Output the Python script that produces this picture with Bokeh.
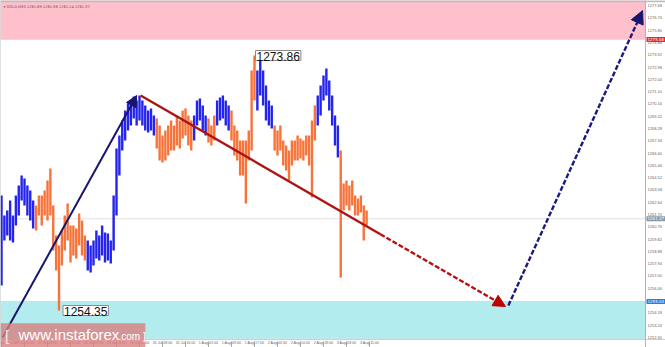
from bokeh.plotting import figure
from bokeh.models import (Range1d, FixedTicker, PrintfTickFormatter, BoxAnnotation,
                          Span, Label, Arrow, NormalHead)
from bokeh.embed import file_html
from bokeh.resources import INLINE

# ---------------- data (GOLD, M30 chart, sampled hourly) ----------------
bar_high = [1263.15, 1261.62, 1262.00, 1262.77, 1261.62, 1263.15, 1263.91, 1264.68, 1264.45, 1263.91,
            1263.53, 1262.77, 1262.38, 1263.15, 1263.15, 1263.53, 1264.30, 1265.21, 1262.38, 1260.09,
            1259.32, 1260.47, 1261.62, 1262.54, 1260.85, 1260.85, 1260.62, 1261.77, 1261.24, 1260.09,
            1259.71, 1259.32, 1259.71, 1260.47, 1260.09, 1260.85, 1260.32, 1260.24, 1259.71, 1263.15,
            1266.74, 1267.74, 1268.89, 1269.65, 1270.19, 1270.42, 1270.72, 1270.42, 1270.80, 1270.42,
            1270.04, 1269.65, 1269.80, 1269.27, 1269.04, 1268.50, 1267.74, 1268.12, 1268.50, 1268.89,
            1268.50, 1269.27, 1268.89, 1269.65, 1269.80, 1269.27, 1268.89, 1269.27, 1270.42, 1270.57,
            1270.04, 1269.27, 1269.04, 1268.50, 1269.27, 1270.42, 1270.65, 1270.80, 1270.42, 1270.04,
            1269.65, 1268.50, 1268.12, 1267.36, 1267.36, 1267.36, 1268.12, 1272.71, 1273.86, 1272.71,
            1273.63, 1272.71, 1271.57, 1270.42, 1270.04, 1268.50, 1268.12, 1268.50, 1267.36, 1266.97,
            1266.59, 1267.36, 1267.36, 1267.74, 1267.51, 1267.36, 1267.74, 1267.74, 1268.89, 1270.04,
            1270.80, 1271.57, 1272.33, 1272.87, 1271.95, 1270.80, 1269.27, 1268.50, 1266.59, 1264.07,
            1264.30, 1263.91, 1264.30, 1263.15, 1262.92, 1263.15, 1262.38, 1262.00]
bar_low = [1256.26, 1259.71, 1260.09, 1259.71, 1259.55, 1260.85, 1261.62, 1262.77, 1262.38, 1261.62,
           1261.24, 1260.62, 1260.47, 1261.62, 1260.85, 1261.62, 1261.24, 1261.62, 1258.94, 1257.41,
           1254.35, 1257.79, 1258.94, 1259.71, 1258.02, 1258.56, 1258.33, 1259.32, 1258.56, 1258.18,
           1257.41, 1257.26, 1257.79, 1258.33, 1258.18, 1258.56, 1258.02, 1258.18, 1257.95, 1258.94,
           1261.62, 1264.68, 1266.59, 1267.36, 1268.12, 1268.50, 1269.04, 1268.50, 1268.89, 1268.50,
           1268.12, 1267.97, 1268.12, 1267.74, 1266.74, 1265.83, 1265.67, 1265.83, 1266.21, 1266.59,
           1266.59, 1266.97, 1266.74, 1267.51, 1267.74, 1266.97, 1266.59, 1267.36, 1268.50, 1268.89,
           1268.12, 1267.74, 1267.20, 1266.97, 1267.36, 1268.50, 1268.89, 1269.04, 1268.50, 1268.12,
           1267.36, 1266.21, 1265.83, 1264.68, 1264.68, 1262.54, 1265.83, 1266.59, 1270.42, 1269.65,
           1270.80, 1270.04, 1268.89, 1268.50, 1268.27, 1266.59, 1266.21, 1266.59, 1265.44, 1265.06,
           1264.30, 1265.44, 1265.83, 1265.83, 1265.98, 1265.83, 1266.21, 1265.44, 1263.00, 1267.36,
           1268.50, 1269.27, 1270.42, 1270.80, 1269.65, 1268.50, 1266.97, 1266.06, 1256.87, 1262.00,
           1262.38, 1262.00, 1262.38, 1261.62, 1261.62, 1261.85, 1259.71, 1260.85]
# (first bar, last bar, direction)
trend_segments = [(0, 11, "up"), (12, 29, "down"), (30, 53, "up"), (54, 66, "down"),
                  (67, 71, "up"), (72, 74, "down"), (75, 79, "up"), (80, 88, "down"),
                  (89, 94, "up"), (95, 109, "down"), (110, 117, "up"), (118, 127, "down")]

x_tick_labels = ["26 Jul 2017", "27 Jul 06:00", "27 Jul 14:00", "27 Jul 22:00", "28 Jul 07:00",
                 "28 Jul 15:00", "28 Jul 23:00", "31 Jul 08:00", "31 Jul 16:00", "1 Aug 01:00",
                 "1 Aug 09:00", "1 Aug 17:00", "2 Aug 02:00", "2 Aug 10:00", "2 Aug 18:00",
                 "3 Aug 03:00", "3 Aug 11:00"]
price_ticks = [1252.30, 1253.24, 1254.18, 1255.12, 1256.06, 1257.00, 1257.94, 1258.88, 1259.82,
               1260.76, 1261.70, 1262.64, 1263.58, 1264.52, 1265.46, 1266.40, 1267.34, 1268.28,
               1269.22, 1270.16, 1271.10, 1272.04, 1272.98, 1273.92, 1274.86, 1275.80, 1276.74,
               1277.68]

header_text = "\u25be GOLD,M30  1261.69 1261.98 1261.14 1261.37"
last_close = 1261.37
sell_zone_bottom = 1275.08
buy_zone = [1252.20, 1255.04]
chart_bottom = 1252.13
chart_top = 1278.02
scale_edge = 224.0          # last bar slot before the price scale
swing_high = (88, 1273.86)
swing_low = (20, 1254.35)

wave_up_x, wave_up_y = [0.35, 47.0], [1252.28, 1270.80]
wave_down_x, wave_down_y = [48.4, 131.8, 175.3], [1270.80, 1260.19, 1254.66]
forecast_x, forecast_y = [176.3, 223.0], [1254.73, 1277.30]

# ---------------- figure ----------------
BLUE = "#2424ee"
ORANGE = "#f7733a"
NAVY = "#16166e"
DARKRED = "#ad1414"

p = figure(width=665, height=347, x_range=Range1d(-0.35, 230.96),
           y_range=Range1d(1251.52, 1278.07), output_backend="svg",
           toolbar_location=None, y_axis_location="right",
           min_border_left=0, min_border_right=0, min_border_top=0, min_border_bottom=0)
p.xgrid.visible = False
p.ygrid.visible = False
p.outline_line_color = None
p.background_fill_color = "white"
p.border_fill_color = "white"

# zones
p.add_layout(BoxAnnotation(bottom=sell_zone_bottom, right=scale_edge, fill_color="#ffc0cb",
                           fill_alpha=1.0, line_color="#f2a6b3", line_width=1, level="underlay"))
p.add_layout(BoxAnnotation(bottom=buy_zone[0], top=buy_zone[1], right=scale_edge,
                           fill_color="#b3ecee", fill_alpha=1.0, line_color="#86c8cf",
                           line_width=1, level="underlay"))
p.add_layout(Span(location=last_close, dimension="width", line_color="#e2e2e2",
                  line_width=1, level="underlay"))
p.add_layout(Span(location=chart_bottom, dimension="width", line_color="#cfcfcf", line_width=1))
p.add_layout(Span(location=chart_top, dimension="width", line_color="#bdbdbd", line_width=2))
p.add_layout(Span(location=scale_edge, dimension="height", line_color="#b4b4b4", line_width=1))
p.add_layout(Span(location=-0.35, dimension="height", line_color="#c4c4c4", line_width=1))

# bars
xs = list(range(len(bar_high)))
colors = [None] * len(bar_high)
for a, b, d in trend_segments:
    for i in range(a, b + 1):
        colors[i] = BLUE if d == "up" else ORANGE
p.segment(x0=xs, y0=bar_low, x1=xs, y1=bar_high, line_color=colors, line_width=2.4)

# wave arrows
p.add_layout(Arrow(end=NormalHead(size=11, fill_color=NAVY, line_color=NAVY),
                   x_start=wave_up_x[0], y_start=wave_up_y[0], x_end=wave_up_x[1], y_end=wave_up_y[1],
                   line_color=NAVY, line_width=2))
p.line(wave_down_x[:2], wave_down_y[:2], line_color=DARKRED, line_width=2.4)
p.add_layout(Arrow(end=NormalHead(size=12, fill_color="#c00000", line_color="#c00000"),
                   x_start=wave_down_x[1], y_start=wave_down_y[1], x_end=wave_down_x[2], y_end=wave_down_y[2],
                   line_color="#b80f0f", line_width=2.4, line_dash="5 2"))
p.add_layout(Arrow(end=NormalHead(size=13, fill_color=NAVY, line_color=NAVY),
                   x_start=forecast_x[0], y_start=forecast_y[0], x_end=forecast_x[1], y_end=forecast_y[1],
                   line_color="#1a1a80", line_width=2.4, line_dash="5 2"))

# price labels on swings
for (bx, by) in [swing_high, swing_low]:
    p.add_layout(Label(x=bx, y=by, text=f"{by:.2f}", x_offset=1 if bx == swing_high[0] else 4,
                       text_font="Liberation Sans", text_font_size="12px", text_color="#111111",
                       text_align="left", text_baseline="middle",
                       background_fill_color="white", border_line_color="#8a8a8a",
                       padding=dict(left=1, right=1, top=1, bottom=0)))

# header
p.add_layout(Label(x=0.7, y=1277.55, text=header_text, text_font="DejaVu Sans",
                   text_font_size="3.6px", text_color="#555555", text_baseline="middle"))

# axes (labels drawn just inside the canvas edge, like the terminal's price/time scales)
p.xaxis.ticker = FixedTicker(ticks=[8 * k for k in range(len(x_tick_labels))])
p.xaxis.major_label_overrides = {8 * k: t for k, t in enumerate(x_tick_labels)}
p.xaxis.major_label_text_align = "left"
p.xaxis.major_label_text_font_size = "3.6px"
p.xaxis.major_label_text_color = "#666666"
p.xaxis.major_label_standoff = -7
p.xaxis.major_tick_in = 6
p.xaxis.major_tick_out = 0
p.xaxis.minor_tick_line_color = None
p.xaxis.axis_line_color = None
p.xaxis.major_tick_line_color = "#aaaaaa"

p.yaxis.ticker = FixedTicker(ticks=price_ticks)
p.yaxis.formatter = PrintfTickFormatter(format="%.2f")
p.yaxis.major_label_text_font_size = "4px"
p.yaxis.major_label_text_color = "#666666"
p.yaxis.major_label_standoff = -18
p.yaxis.major_tick_in = 0
p.yaxis.major_tick_out = 0
p.yaxis.minor_tick_line_color = None
p.yaxis.axis_line_color = None

# highlighted price labels on the right scale
for val, col in [(sell_zone_bottom, "#e8262e"), (last_close, "#8a98a8"), (buy_zone[1], "#2d7be0")]:
    p.add_layout(Label(x=scale_edge, y=val, x_offset=1, text=f"{val:.2f}", text_font="DejaVu Sans",
                       text_font_size="4px", text_color="white", text_align="left",
                       text_baseline="middle", background_fill_color=col,
                       padding=dict(left=1, right=2, top=1, bottom=1)))

# watermark
p.add_layout(Label(x=-0.35, y=1252.45, text="www.instaforex", text_font="Liberation Sans",
                   text_font_size="15px", text_color="white", text_baseline="middle",
                   background_fill_color="#d97f80", background_fill_alpha=0.8,
                   padding=dict(left=18, right=26, top=3, bottom=4)))
p.add_layout(Label(x=40.7, y=1252.35, text=".com ]", text_font="Liberation Sans",
                   text_font_size="10px", text_color="white", text_baseline="middle"))
p.add_layout(Label(x=1.2, y=1252.45, text="[", text_font="Liberation Sans",
                   text_font_size="15px", text_color="#f0e6e6", text_baseline="middle"))

open("out.html", "w").write(file_html(p, INLINE))
